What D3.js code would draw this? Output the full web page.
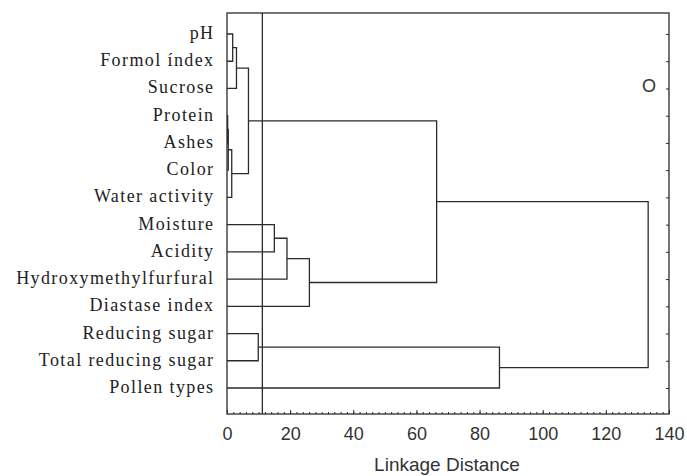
<!DOCTYPE html>
<html>
<head>
<meta charset="utf-8">
<script src="https://cdn.jsdelivr.net/npm/d3@7"></script>
<style>
  body { margin: 0; background: #fff; }
  svg { display: block; }
</style>
</head>
<body>
<script>
// leaves, top to bottom
var leaves = ["pH", "Formol índex", "Sucrose", "Protein", "Ashes", "Color",
  "Water activity", "Moisture", "Acidity", "Hydroxymethylfurfural",
  "Diastase index", "Reducing sugar", "Total reducing sugar", "Pollen types"];

// joins: [childA, childB, linkage distance]; ids 0-13 are leaves, 14+ are the joins in order
var mergeA = [0, 14, 3, 16, 17, 15, 7, 20, 21, 19, 11, 24, 23];
var mergeB = [1, 2, 4, 5, 6, 18, 8, 9, 10, 22, 12, 13, 25];
var mergeDist = [1.8, 3.0, 0.2, 0.4, 1.5, 6.8, 15.0, 19.0, 26.1, 66.4, 9.9, 86.3, 133.4];

var cutDistance = 11.2;
var xTicks = [0, 20, 40, 60, 80, 100, 120, 140];

var width = 687, height = 476;
var plotL = 227, plotR = 669, plotT = 13, plotB = 414;

var svg = d3.select("body").append("svg")
  .attr("width", width)
  .attr("height", height);

var x = d3.scaleLinear().domain([0, 140]).range([plotL, plotR]);
var y = d3.scalePoint().domain(leaves).range([34, 388]);

// node positions
var nodes = leaves.map(function(d) { return {h: 0, y: y(d)}; });
mergeDist.forEach(function(h, i) {
  var a = nodes[mergeA[i]], b = nodes[mergeB[i]];
  nodes.push({h: h, y: (a.y + b.y) / 2, a: a, b: b});
});

var ink = "#2b2b2b";

// frame
svg.append("rect")
  .attr("x", plotL).attr("y", plotT)
  .attr("width", plotR - plotL).attr("height", plotB - plotT)
  .attr("fill", "none").attr("stroke", ink).attr("stroke-width", 1.3);

// cut line
svg.append("line")
  .attr("x1", x(cutDistance)).attr("x2", x(cutDistance))
  .attr("y1", plotT).attr("y2", plotB)
  .attr("stroke", ink).attr("stroke-width", 1.3);

// links
svg.append("g").selectAll("path")
  .data(nodes.slice(leaves.length))
  .enter().append("path")
  .attr("d", function(d) {
    return "M" + x(d.a.h) + "," + d.a.y + "H" + x(d.h) + "V" + d.b.y + "H" + x(d.b.h);
  })
  .attr("fill", "none")
  .attr("stroke", ink)
  .attr("stroke-width", 1.3);

// right side ticks at leaves
svg.append("g")
  .attr("transform", "translate(" + plotR + ",0)")
  .call(d3.axisRight(y).tickSize(-3).tickFormat(""))
  .call(function(g) {
    g.select(".domain").remove();
    g.selectAll("line").attr("stroke", ink);
  });

// bottom minor ticks
svg.append("g")
  .attr("transform", "translate(0," + plotB + ")")
  .call(d3.axisBottom(x).tickValues(d3.range(0, 141, 2)).tickSize(-2).tickFormat(""))
  .call(function(g) {
    g.select(".domain").remove();
    g.selectAll("line").attr("stroke", ink);
  });

// bottom major ticks with labels
svg.append("g")
  .attr("transform", "translate(0," + plotB + ")")
  .call(d3.axisBottom(x).tickValues(xTicks).tickSize(-4).tickFormat(d3.format("d")))
  .call(function(g) {
    g.select(".domain").remove();
    g.selectAll("line").attr("stroke", ink);
    g.selectAll("text")
      .attr("y", 26).attr("dy", 0)
      .attr("fill", "#333")
      .style("font-family", "Liberation Sans, Arial, sans-serif")
      .style("font-size", "18px");
  });

// axis title
svg.append("text")
  .attr("x", (plotL + plotR) / 2 - 1)
  .attr("y", 471)
  .attr("text-anchor", "middle")
  .attr("fill", "#333")
  .style("font-family", "Liberation Sans, Arial, sans-serif")
  .style("font-size", "19px")
  .text("Linkage Distance");

// leaf labels
svg.append("g").selectAll("text")
  .data(leaves)
  .enter().append("text")
  .attr("x", 214.5)
  .attr("y", function(d) { return y(d) + 5; })
  .attr("text-anchor", "end")
  .attr("fill", "#222")
  .style("font-family", "Liberation Serif, Times New Roman, serif")
  .style("font-size", "18px")
  .style("letter-spacing", "1.4px")
  .text(function(d) { return d; });

// corner mark
svg.append("text")
  .attr("x", 649).attr("y", 92)
  .attr("text-anchor", "middle")
  .attr("fill", "#333")
  .style("font-family", "Liberation Sans, Arial, sans-serif")
  .style("font-size", "18px")
  .text("O");
</script>
</body>
</html>
